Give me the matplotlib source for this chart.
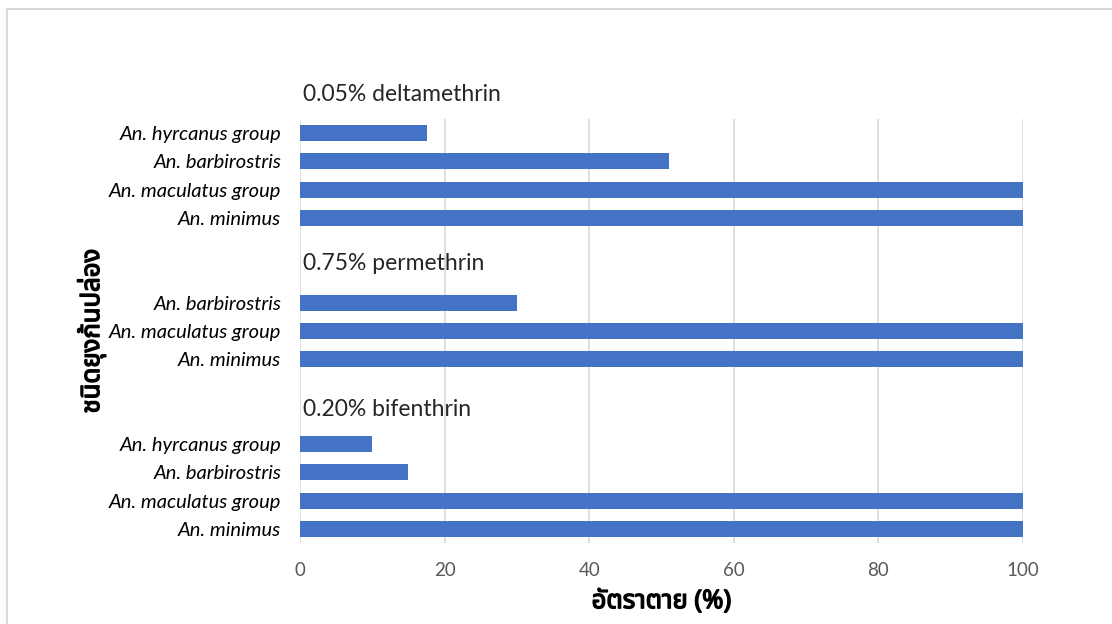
import matplotlib
matplotlib.use("Agg")
import matplotlib.pyplot as plt
from matplotlib import font_manager
from matplotlib.ft2font import FT2Font
from matplotlib.patches import Rectangle
import matplotlib.patheffects as pe

# data
group_titles = ["0.05% deltamethrin", "0.75% permethrin", "0.20% bifenthrin"]
deltamethrin_labels = ["An. hyrcanus group", "An. barbirostris", "An. maculatus group", "An. minimus"]
deltamethrin_values = [17.6, 51.1, 100, 100]
permethrin_labels = ["An. barbirostris", "An. maculatus group", "An. minimus"]
permethrin_values = [30, 100, 100]
bifenthrin_labels = ["An. hyrcanus group", "An. barbirostris", "An. maculatus group", "An. minimus"]
bifenthrin_values = [10, 15, 100, 100]
x_ticks = [0, 20, 40, 60, 80, 100]
x_label = "อัตราตาย (%)"
y_label = "ชนิดยุงก้นปล่อง"


def find_thai_font():
    names = []
    for f in font_manager.fontManager.ttflist:
        try:
            cmap = FT2Font(f.fname).get_charmap()
        except Exception:
            continue
        if 0x0E0A in cmap and 0x0E2D in cmap:
            names.append(f.name)
    for pref in ["Noto Sans Thai", "Noto Sans Thai UI", "Tlwg Typo", "Garuda", "Loma"]:
        if pref in names:
            return pref
    return names[0] if names else "DejaVu Sans"


thai_font = find_thai_font()
plt.rcParams["font.family"] = ["Lato", "DejaVu Sans"]

fig = plt.figure(figsize=(11.12, 6.24), dpi=100)
# chart frame, cut off at right and bottom like the screenshot
fig.patches.append(Rectangle((7 / 1112, -0.1), 1.2, 1 - 8.5 / 624 + 0.1,
                             transform=fig.transFigure, fill=False,
                             edgecolor="#D9D9D9", linewidth=1.5))

ax = fig.add_axes([300 / 1112, 1 - 543 / 624, 723 / 1112, 424 / 624])

groups = [
    (deltamethrin_labels, deltamethrin_values),
    (permethrin_labels, permethrin_values),
    (bifenthrin_labels, bifenthrin_values),
]

# stack rows top to bottom, two empty rows between groups
positions, labels, values = [], [], []
row = 14
for labs, vals in groups:
    for lab, val in zip(labs, vals):
        positions.append(row)
        labels.append(lab)
        values.append(val)
        row -= 1
    row -= 2
title_pos = [15.38, 9.39, 4.23]

ax.barh(positions, values, height=0.57, color="#4472C4", zorder=3)
ax.set_ylim(-0.5, 14.5)
ax.set_xlim(0, 100)
ax.set_yticks(positions)
ax.set_yticklabels(labels, fontstyle="italic", fontsize=14.5, color="#000000")
ax.set_xticks(x_ticks)
ax.tick_params(axis="x", labelsize=13.5, colors="#595959", length=0, pad=14)
ax.tick_params(axis="y", length=0, pad=13.5)
ax.grid(axis="x", color="#D9D9D9", linewidth=1.2, zorder=0)
for s in ax.spines.values():
    s.set_visible(False)

for t, p in zip(group_titles, title_pos):
    ax.text(0.4, p, t, fontsize=16.5, color="#262626", va="center", ha="left",
            clip_on=False)

# the thai font has no bold face, so thicken it with a stroke
fake_bold = [pe.withStroke(linewidth=1.0, foreground="black")]
ax.set_xlabel(x_label, family=[thai_font, "DejaVu Sans"], fontsize=18.5,
              labelpad=7, path_effects=fake_bold)
ax.set_ylabel(y_label, family=[thai_font, "DejaVu Sans"], fontsize=18.5,
              labelpad=2, path_effects=fake_bold)

fig.savefig("out.png", dpi=100)
